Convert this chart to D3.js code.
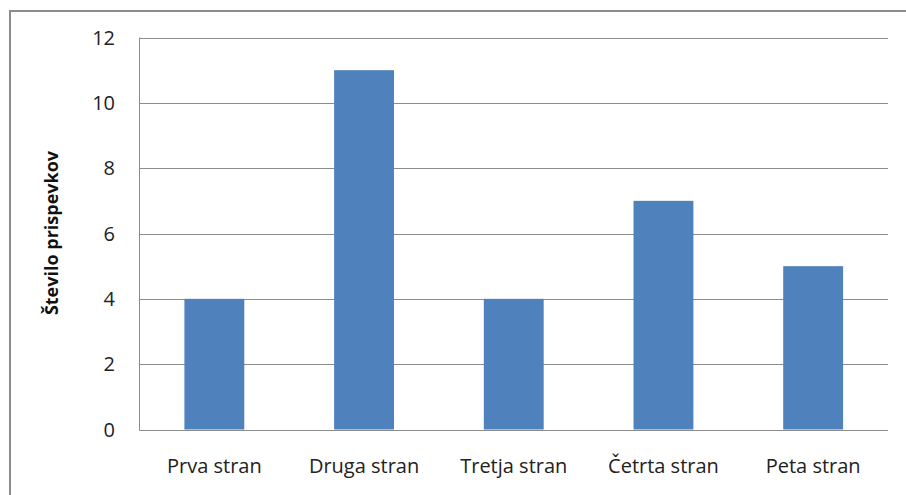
<!DOCTYPE html>
<html><head><meta charset="utf-8">
<script src="https://cdn.jsdelivr.net/npm/d3@7"></script>
<style>body{margin:0;background:#fff}svg{display:block}</style>
</head><body>
<svg id="c" width="906" height="495"></svg>
<script>
const categories = ["Prva stran", "Druga stran", "Tretja stran", "Četrta stran", "Peta stran"];
const values = [4, 11, 4, 7, 5];
const yTicks = [0, 2, 4, 6, 8, 10, 12];
const yTitle = "Število prispevkov";

(function () {
const svg = d3.select("#c");
const font = "'Open Sans', sans-serif";
// outer frame
svg.append("path").attr("d", "M10,495 V11 H906").attr("fill", "none").attr("stroke", "#8c8c8c").attr("stroke-width", 2);

const pLeft = 139.5, pRight = 888, pTop = 37.5, pBottom = 429.5;
const x = d3.scaleBand().domain(categories).range([pLeft, pRight]).paddingInner(0.6).paddingOuter(0.3);
const y = d3.scaleLinear().domain([0, 12]).range([pBottom, pTop]);

// gridlines
svg.append("g").selectAll("line").data(yTicks).join("line")
  .attr("x1", pLeft).attr("x2", pRight)
  .attr("y1", d => Math.round(y(d)) + 0.5).attr("y2", d => Math.round(y(d)) + 0.5)
  .attr("stroke", "#8c8c8c").attr("stroke-width", 1);

// bars
svg.append("g").selectAll("rect").data(values).join("rect")
  .attr("x", (d, i) => x(categories[i]))
  .attr("width", x.bandwidth())
  .attr("y", d => y(d))
  .attr("height", d => y(0) - y(d))
  .attr("fill", "#4f81bd");

// axes lines
svg.append("line").attr("x1", pLeft).attr("x2", pLeft).attr("y1", pTop).attr("y2", pBottom + 0.5).attr("stroke", "#8c8c8c");
svg.append("line").attr("x1", pLeft).attr("x2", pRight).attr("y1", Math.round(pBottom) + 0.5).attr("y2", Math.round(pBottom) + 0.5).attr("stroke", "#8c8c8c");

// y tick labels
svg.append("g").selectAll("text").data(yTicks).join("text")
  .attr("x", 115).attr("y", d => y(d)).attr("dy", "0.35em")
  .attr("text-anchor", "end").attr("font-family", font).attr("font-size", 20).attr("fill", "#222")
  .text(d => d);

// x labels
svg.append("g").selectAll("text").data(categories).join("text")
  .attr("x", d => x(d) + x.bandwidth() / 2).attr("y", 473)
  .attr("text-anchor", "middle").attr("font-family", font).attr("font-size", 20).attr("fill", "#222")
  .text(d => d);

// y title
svg.append("text").attr("transform", "translate(58,233) rotate(-90)")
  .attr("text-anchor", "middle")
  .attr("font-family", font).attr("font-size", 18).attr("font-weight", "bold").attr("fill", "#111")
  .text(yTitle);
})();
</script>
</body></html>
